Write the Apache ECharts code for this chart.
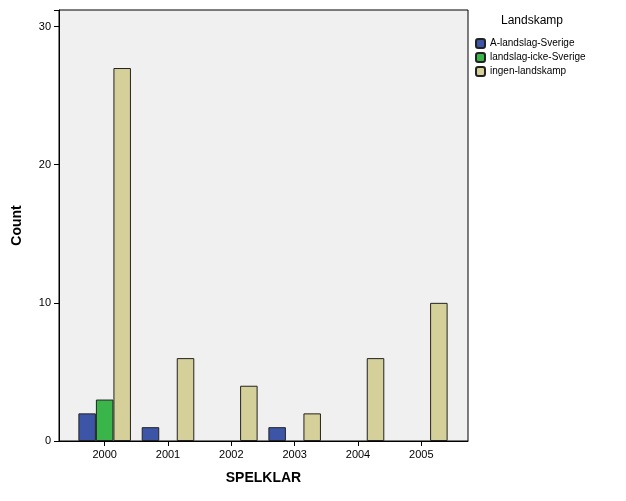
<!DOCTYPE html>
<html><head><meta charset="utf-8">
<script src="https://cdn.jsdelivr.net/npm/echarts@6/dist/echarts.min.js"></script>
<style>html,body{margin:0;padding:0;background:#fff}#c{width:626px;height:501px}</style>
</head><body><div id="c"></div>
<script>
const categories = ['2000','2001','2002','2003','2004','2005'];
const seriesNames = ['A-landslag-Sverige','landslag-icke-Sverige','ingen-landskamp'];
const aLandslag = [2,1,0,1,0,0];
const landslagIcke = [3,0,0,0,0,0];
const ingen = [27,6,4,2,6,10];
const yTicks = [0,10,20,30];
const colors = ['#3d55a6','#3ab54a','#d5cf99'];
const vals = [aLandslag, landslagIcke, ingen];
const chart = echarts.init(document.getElementById('c'));
const yMax = 31.2;
chart.setOption({
  animation:false,
  textStyle:{fontFamily:'Liberation Sans, Arial, sans-serif'},
  grid:[
    {left:73,right:173,top:10,bottom:60},
    {left:59,right:158,top:10,bottom:60,show:true,backgroundColor:'#f0f0f0',borderColor:'#000',borderWidth:1}
  ],
  legend:{orient:'vertical',left:470,top:33,itemWidth:9,itemHeight:9,itemGap:3,
    textStyle:{fontSize:10,color:'#000'},data:seriesNames},
  title:{text:'Landskamp',left:496,top:10,textStyle:{fontSize:12,fontWeight:'normal',color:'#000'}},
  xAxis:[
    {type:'category',gridIndex:0,data:categories,axisLine:{show:false},axisTick:{show:true,length:5,lineStyle:{color:'#000'},alignWithLabel:true},
     axisLabel:{fontSize:11,color:'#000',margin:8}},
    {type:'value',gridIndex:1,min:0,max:1,show:true,axisLabel:{show:false},axisTick:{show:false},splitLine:{show:false},
     axisLine:{lineStyle:{color:'#000'}},name:'SPELKLAR',nameLocation:'middle',nameGap:30,
     nameTextStyle:{fontSize:14,fontWeight:'bold',color:'#000'}}
  ],
  yAxis:[
    {type:'value',gridIndex:0,min:0,max:yMax,show:false,splitLine:{show:false}},
    {type:'value',gridIndex:1,min:0,max:yMax,interval:10,splitLine:{show:false},
     axisLine:{show:true,lineStyle:{color:'#000'}},axisTick:{show:true,length:5,lineStyle:{color:'#000'}},
     axisLabel:{fontSize:11,color:'#000',formatter:v=>yTicks.includes(v)?String(v):''},
     name:'Count',nameLocation:'middle',nameGap:35,nameTextStyle:{fontSize:14,fontWeight:'bold',color:'#000'}}
  ],
  series: seriesNames.map((n,i)=>({
    name:n,type:'bar',xAxisIndex:0,yAxisIndex:0,data:vals[i].map(v=>v===0?null:v),
    barGap:'0%',barCategoryGap:'17%',
    itemStyle:{color:colors[i],borderColor:'#222',borderWidth:1}
  }))
});
</script></body></html>
